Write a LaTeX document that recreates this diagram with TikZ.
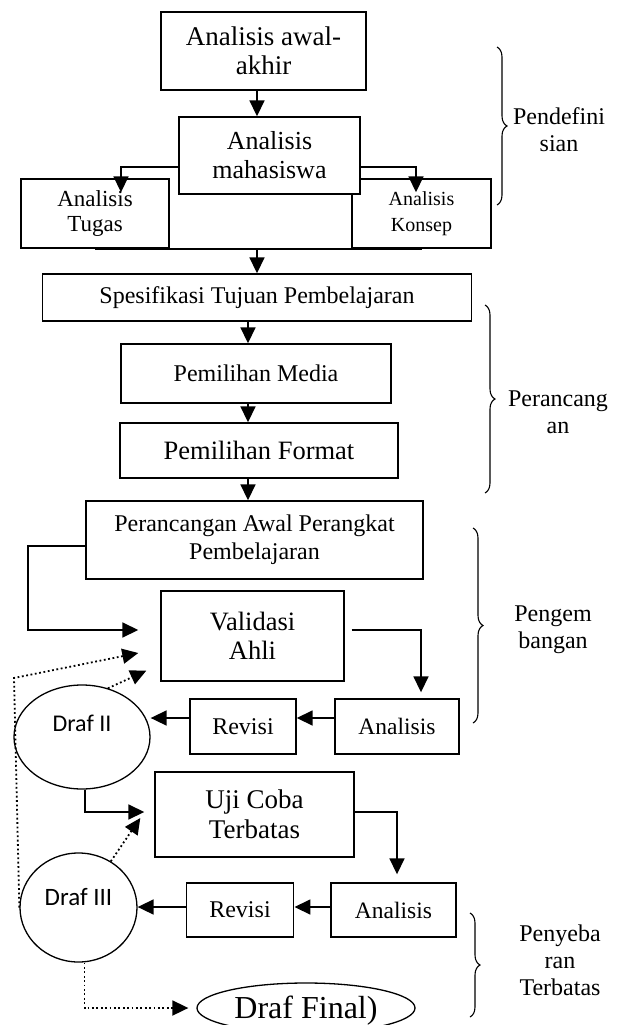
\documentclass[tikz,border=0pt]{standalone}
\usepackage{fontspec}
\setmainfont{Liberation Serif}
\newfontfamily\draffont{Carlito}
\usetikzlibrary{arrows.meta,shapes.geometric,decorations.pathreplacing}

\tikzset{
	box/.style = {draw, line width=1.4pt, fill=white, align=center, inner sep=0pt},
	arr/.style = {line width=1.7pt, -{Triangle[length=16pt,width=15pt]}},
	ln/.style = {line width=1.7pt},
	dotarr/.style = {line width=1.8pt, dash pattern=on 1.8pt off 2.6pt, -{Triangle[length=16pt,width=15pt]}},
	draf/.style = {draw, ellipse, line width=1.3pt, inner sep=0pt},
	brc/.style = {decorate, decoration={brace, amplitude=10pt}, line width=1.1pt},
	phase/.style = {align=center, font=\fontsize{24}{27}\selectfont}
}

\begin{document}
\begin{tikzpicture}[x=1pt, y=-1pt]
	\useasboundingbox (0,0) rectangle (621,1025);
	% pendefinisian
	\node[box, minimum width=148, minimum height=69, font=\fontsize{23}{25}\selectfont] (tugas) at (95,213.5) {Analisis\\Tugas};
	\node[box, minimum width=139, minimum height=69, font=\fontsize{20}{26}\selectfont] (konsep) at (421.5,213.5) {Analisis\\Konsep};
	\node[box, minimum width=205, minimum height=78, font=\fontsize{27}{29}\selectfont] (awal) at (263.5,51) {Analisis awal-\\akhir};
	\node[box, minimum width=181, minimum height=77, font=\fontsize{26}{29}\selectfont] (mhs) at (269.5,155.5) {Analisis\\mahasiswa};
	% perancangan
	\node[box, minimum width=428.5, minimum height=47, font=\fontsize{24}{27}\selectfont] (spek) at (257,297.5) {Spesifikasi Tujuan Pembelajaran};
	\node[box, minimum width=270, minimum height=59, font=\fontsize{24}{27}\selectfont] (media) at (256,373.5) {Pemilihan Media};
	\node[box, minimum width=278, minimum height=55, font=\fontsize{26.5}{29}\selectfont] (format) at (259,450.5) {Pemilihan Format};
	% pengembangan
	\node[box, minimum width=337, minimum height=78, font=\fontsize{24}{28}\selectfont] (pa) at (254.5,540) {Perancangan Awal Perangkat\\Pembelajaran};
	\node[box, minimum width=183, minimum height=90, font=\fontsize{26.5}{29}\selectfont] (val) at (252.5,636) {Validasi\\Ahli};
	\node[box, minimum width=124, minimum height=55, font=\fontsize{23.5}{26}\selectfont] (ana1) at (397,726.5) {Analisis};
	\node[box, minimum width=106, minimum height=55, font=\fontsize{24}{26}\selectfont] (rev1) at (243,726.5) {Revisi};
	\node[draf, minimum width=136, minimum height=104, label={[font=\draffont\fontsize{24}{28}\selectfont, yshift=14]center:Draf II}] (draf2) at (82,737) {};
	% penyebaran terbatas
	\node[box, minimum width=199, minimum height=85, font=\fontsize{27}{30}\selectfont] (uji) at (254.5,814.5) {Uji Coba\\Terbatas};
	\node[box, minimum width=125, minimum height=54, font=\fontsize{23.5}{26}\selectfont] (ana2) at (393.5,910) {Analisis};
	\node[box, minimum width=107.5, minimum height=54, font=\fontsize{24}{26}\selectfont] (rev2) at (240,910) {Revisi};
	\node[draf, minimum width=117, minimum height=109, label={[font=\draffont\fontsize{25}{28}\selectfont, yshift=10]center:Draf III}] (draf3) at (78.5,907.5) {};
	\node[draf, minimum width=218, minimum height=50, label={[font=\fontsize{32}{34}\selectfont, yshift=-3]center:Draf Final)}] (final) at (306,1008) {};

	% alur
	\draw[arr] ([xshift=-6.5]awal.south) -- ([xshift=-12.5]mhs.north);
	\draw[arr] ([yshift=-11.5]mhs.west) -| ([xshift=26,yshift=-14]tugas.north);
	\draw[arr] ([yshift=-11.5]mhs.east) -| ([xshift=-5.5,yshift=-14]konsep.north);
	\draw[ln] (tugas.south) -- (konsep.south);
	\draw[arr] (spek.north |- tugas.south) -- (spek.north);
	\draw[arr] ([xshift=-9]spek.south) -- ([xshift=-8]media.north);
	\draw[arr] ([xshift=-8]media.south) -- ([xshift=-11]format.north);
	\draw[arr] ([xshift=-11]format.south) -- ([xshift=-6.5]pa.north);
	\draw[arr] ([yshift=-6]pa.west) -- ++(-57,0) |- ([xshift=-22,yshift=6]val.west);
	\draw[arr] ([xshift=7,yshift=6]val.east) -| ([xshift=24,yshift=6]ana1.north);
	\draw[arr] ([yshift=8.5]ana1.west) -- ([yshift=8.5]rev1.east);
	\draw[arr] ([yshift=8.5]rev1.west) -- ([yshift=8.5]rev1.west -| draf2.east);
	\draw[arr] ([xshift=3]draf2.south) |- ([xshift=-10,yshift=2.5]uji.west);
	\draw[arr] ([yshift=2.5]uji.east) -| ([xshift=3.5,yshift=8]ana2.north);
	\draw[arr] ([yshift=3]ana2.west) -- ([yshift=3]rev2.east);
	\draw[arr] ([yshift=3]rev2.west) -- ([yshift=3]rev2.west -| draf3.east);

	% revisi balik
	\coordinate (belok) at (14,678);
	\draw[dotarr] (draf2.62) -- ([xshift=-14,yshift=11]val.south west);
	\draw[dotarr] (draf3.west) -- (belok) -- ([xshift=-22,yshift=-17]val.west);
	\draw[dotarr] (draf3.55) -- ([xshift=-14,yshift=-3.5]uji.west);
	\draw[dotarr] ([xshift=6]draf3.south) |- ([xshift=-8]final.west);

	% tahap
	\draw[brc] (497,47) -- (497,205);
	\node[phase] (pdf) at (559,130) {Pendefini\\sian};
	\draw[brc] (485,305) -- (485,493);
	\node[phase] (prc) at (558,412) {Perancang\\an};
	\draw[brc] (473,528) -- (473,723);
	\node[phase] (pgb) at (553,630) {Pengem\\bangan};
	\draw[brc] (470,913) -- (470,1017);
	\node[phase] (pyb) at (560,960) {Penyeba\\ran\\Terbatas};
\end{tikzpicture}
\end{document}
